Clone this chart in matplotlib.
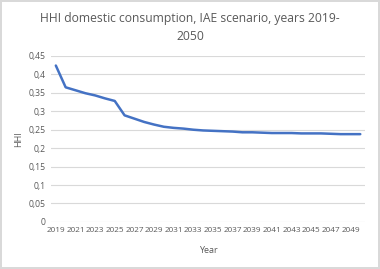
import matplotlib
matplotlib.use("Agg")
import matplotlib.pyplot as plt
from matplotlib.ticker import FuncFormatter

years = list(range(2019, 2051))
hhi = [0.424, 0.365, 0.357, 0.349, 0.343, 0.335, 0.328, 0.289,
       0.280, 0.271, 0.264, 0.258, 0.255, 0.253, 0.250, 0.248,
       0.247, 0.246, 0.245, 0.243, 0.243, 0.242, 0.241, 0.241,
       0.241, 0.240, 0.240, 0.240, 0.239, 0.238, 0.238, 0.238]
y_ticks = [0, 0.05, 0.1, 0.15, 0.2, 0.25, 0.3, 0.35, 0.4, 0.45]

plt.rcParams["font.family"] = ["Open Sans", "DejaVu Sans"]
grey = "#595959"

fig = plt.figure(figsize=(3.8, 2.69), dpi=100)
fig.patch.set_edgecolor("#d9d9d9")
fig.patch.set_linewidth(1.5)

ax = fig.add_axes([0.134, 0.175, 0.827, 0.617])
x = list(range(len(years)))
ax.plot(x, hhi, color="#4472C4", linewidth=1.8, solid_capstyle="round")

ax.set_xlim(-0.5, len(years) - 0.5)
ax.set_ylim(0, 0.45)
ax.set_yticks(y_ticks)
ax.yaxis.set_major_formatter(FuncFormatter(lambda v, p: f"{v:g}".replace(".", ",")))
ax.set_xticks(x[::2])
ax.set_xticklabels([str(y) for y in years[::2]])

ax.grid(axis="y", color="#d9d9d9", linewidth=0.8)
ax.set_axisbelow(True)
for s in ax.spines.values():
    s.set_visible(False)
ax.tick_params(length=0, labelsize=5.9, colors=grey, pad=4)
ax.tick_params(axis="y", labelsize=6.2)

ax.set_xlabel("Year", fontsize=6.5, color=grey, labelpad=8)
ax.set_ylabel("HHI", fontsize=6.5, color=grey, labelpad=4)
fig.suptitle("HHI domestic consumption, IAE scenario, years 2019-\n2050",
             fontsize=8.7, color=grey, y=0.955, linespacing=1.5)

fig.savefig("out.png", dpi=100)
